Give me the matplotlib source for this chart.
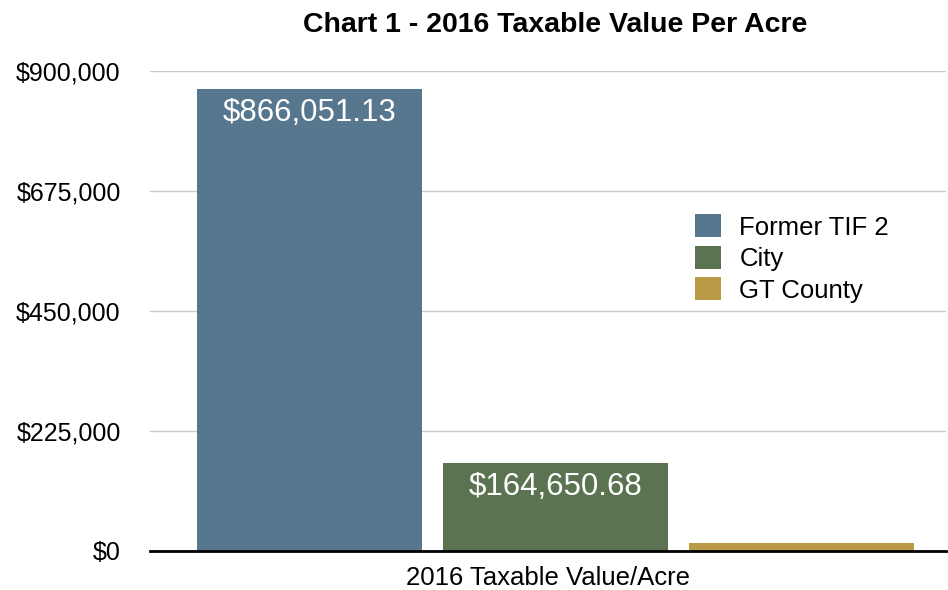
import matplotlib
matplotlib.use("Agg")
import matplotlib.pyplot as plt
from matplotlib.patches import Patch
from matplotlib.ticker import FuncFormatter

categories = ["Former TIF 2", "City", "GT County"]
values = [866051.13, 164650.68, 15500.0]
labels = ["$866,051.13", "$164,650.68", ""]
colors = ["#57778f", "#5b7350", "#b99a45"]
yticks = [0, 225000, 450000, 675000, 900000]

plt.rcParams["font.family"] = ["Liberation Sans", "DejaVu Sans"]

fig = plt.figure(figsize=(9.48, 5.90), dpi=100)
ax = fig.add_axes([150 / 948, 1 - 551 / 590, 796 / 948, 480 / 590])

pos = [0, 1, 2]
bars = ax.bar(pos, values, width=0.915, color=colors, zorder=3)

for b, lab in zip(bars, labels):
    if lab:
        ax.annotate(lab, (b.get_x() + b.get_width() / 2, b.get_height()),
                    xytext=(0, -17), textcoords="offset points",
                    ha="center", va="center", color="white", fontsize=22.5, zorder=4)

ax.set_ylim(0, 900000)
ax.set_xlim(-0.649, 2.588)
ax.set_yticks(yticks)
ax.yaxis.set_major_formatter(FuncFormatter(lambda v, p: "${:,.0f}".format(v)))
ax.tick_params(axis="y", length=0, labelsize=18, pad=21)
ax.set_xticks([])
ax.grid(axis="y", color="#c8c8c8", linewidth=1, zorder=0)
for s in ["top", "right", "left"]:
    ax.spines[s].set_visible(False)
ax.spines["bottom"].set_linewidth(2)
ax.spines["bottom"].set_zorder(5)

ax.set_xlabel("2016 Taxable Value/Acre", fontsize=18.5, labelpad=11)

handles = [Patch(facecolor=c) for c in colors]
ax.legend(handles, categories, loc="upper left", bbox_to_anchor=(535 / 796, 1 - 133 / 480),
          frameon=False, fontsize=18.5, handlelength=1.0, handleheight=1.0,
          handletextpad=0.72, labelspacing=0.24, borderaxespad=0)

fig.text(555 / 948, 1 - 25 / 590, "Chart 1 - 2016 Taxable Value Per Acre",
         ha="center", va="center", fontsize=20.5, fontweight="bold",
         family=["Liberation Sans Narrow", "Liberation Sans", "DejaVu Sans"])

fig.savefig("out.png", dpi=100)
